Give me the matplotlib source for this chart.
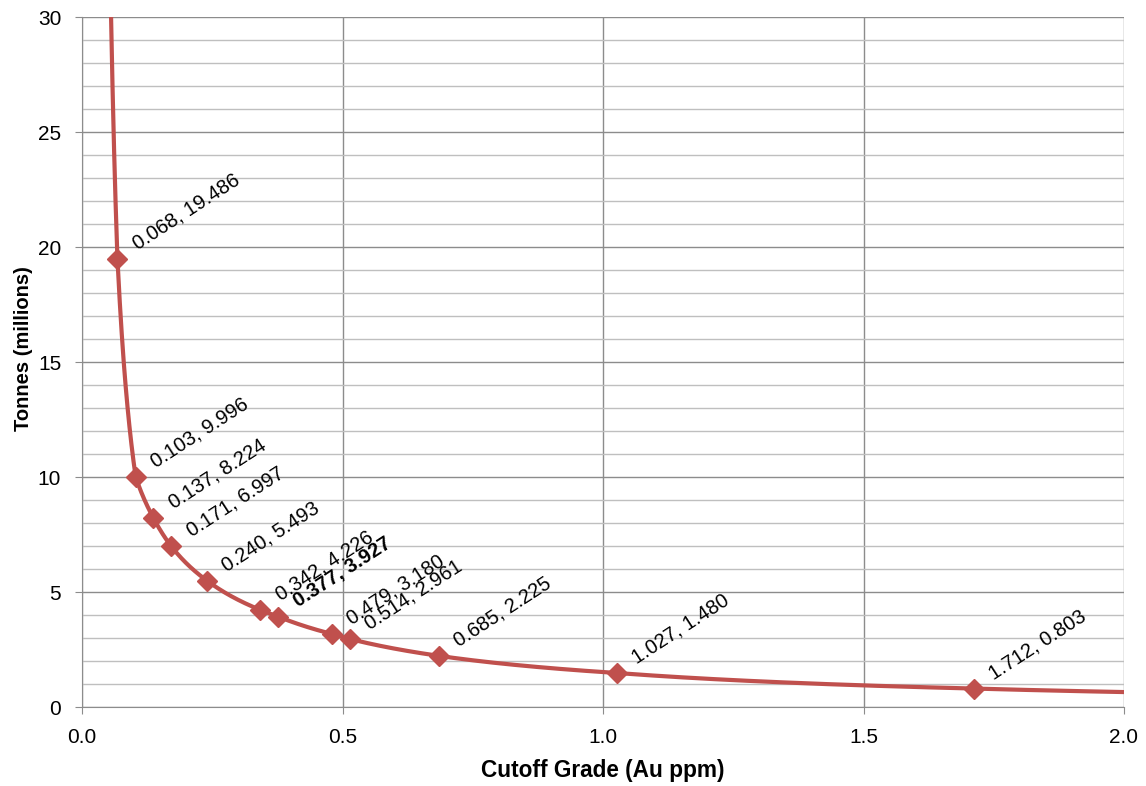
import numpy as np
import matplotlib
matplotlib.use('Agg')
import matplotlib.pyplot as plt

plt.rcParams['font.family'] = ['Liberation Sans', 'DejaVu Sans']

# cutoff grade (Au ppm) and tonnes (millions)
grade = [0.068, 0.103, 0.137, 0.171, 0.240, 0.342, 0.377, 0.479, 0.514, 0.685, 1.027, 1.712]
tonnes = [19.486, 9.996, 8.224, 6.997, 5.493, 4.226, 3.927, 3.180, 2.961, 2.225, 1.480, 0.803]
bold_grade = 0.377

# where the curve runs on past the markers
line_start = (0.0557, 30.0)
line_end = (2.0, 0.65)

red = '#C0504D'

fig = plt.figure(figsize=(11.46, 7.86), dpi=100)
ax = fig.add_axes([0.0716, 0.1005, 0.9092, 0.8775])

# smooth curve: join the points straight in log-log space
lx = np.log([line_start[0]] + grade + [line_end[0]])
ly = np.log([line_start[1]] + tonnes + [line_end[1]])
cx, cy = [], []
for i in range(len(lx) - 1):
    t = np.linspace(0, 1, 40, endpoint=False)
    cx.extend(lx[i] + (lx[i + 1] - lx[i]) * t)
    cy.extend(ly[i] + (ly[i + 1] - ly[i]) * t)
cx.append(lx[-1])
cy.append(ly[-1])
ax.plot(np.exp(cx), np.exp(cy), color=red, lw=3, zorder=3)
ax.plot(grade, tonnes, 'D', color=red, markersize=10.5, zorder=4)

for g, t in zip(grade, tonnes):
    ax.annotate('%.3f, %.3f' % (g, t), (g, t), xytext=(16, 4), textcoords='offset points',
                rotation=33, rotation_mode='anchor', ha='left', va='bottom',
                fontsize=14.5, fontweight='bold' if g == bold_grade else 'normal', zorder=5)

ax.set_xlim(0, 2.0)
ax.set_ylim(0, 30)
ax.set_xticks(np.arange(0, 2.01, 0.5))
ax.set_xticklabels(['%.1f' % v for v in np.arange(0, 2.01, 0.5)])
ax.set_yticks(np.arange(0, 31, 5))
ax.set_yticks(np.arange(0, 31, 1), minor=True)
ax.grid(True, which='major', color='#8C8C8C', lw=1)
ax.grid(True, which='minor', axis='y', color='#BFBFBF', lw=1)
ax.tick_params(which='major', length=5, color='#8C8C8C', labelsize=15)
ax.tick_params(axis='y', pad=10)
ax.tick_params(axis='x', pad=10)
ax.tick_params(which='minor', length=0)
for s in ['top', 'right']:
    ax.spines[s].set_visible(False)
for s in ['left', 'bottom']:
    ax.spines[s].set_color('#8C8C8C')
ax.set_axisbelow(True)

ax.set_xlabel('Cutoff Grade (Au ppm)', fontsize=16.3, fontweight='bold', labelpad=9)
ax.set_ylabel('Tonnes (millions)', fontsize=14.5, fontweight='bold')
ax.yaxis.set_label_coords(-0.047, 0.519)

fig.savefig('out.png', dpi=100)
